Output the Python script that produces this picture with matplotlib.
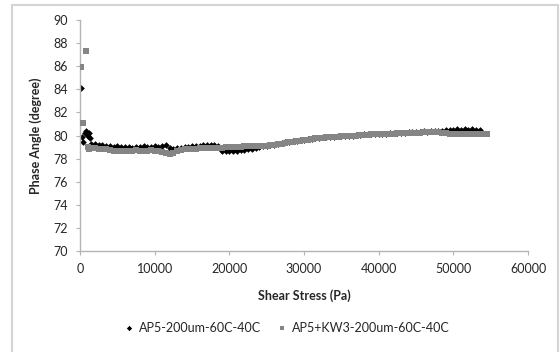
import matplotlib.pyplot as plt
from matplotlib.patches import Rectangle

plt.rcParams['font.family'] = ['Lato', 'DejaVu Sans']

# AP5-200um-60C-40C (black diamonds)
ap5_x = [130, 200, 400, 670, 800, 1000, 1200, 1340,
         1500, 2000, 2500, 3000, 3500, 4000, 4500, 5000, 5500, 6000,
         6500, 7000, 7500, 8000, 8500, 9000, 9500, 10000, 10500, 11000,
         11500, 12000, 12500, 13000, 13500, 14000, 14500, 15000, 15500, 16000,
         16500, 17000, 17500, 18000, 18500, 19000, 19500, 20000, 20500, 21000,
         21500, 22000, 22500, 23000, 23500, 24000, 24500, 25000, 25500, 26000,
         26500, 27000, 27500, 28000, 28500, 29000, 29500, 30000, 30500, 31000,
         31500, 32000, 32500, 33000, 33500, 34000, 34500, 35000, 35500, 36000,
         36500, 37000, 37500, 38000, 38500, 39000, 39500, 40000, 40500, 41000,
         41500, 42000, 42500, 43000, 43500, 44000, 44500, 45000, 45500, 46000,
         46500, 47000, 47500, 48000, 48500, 49000, 49500, 50000, 50500, 51000,
         51500, 52000, 52500, 53000, 53500]
ap5_y = [84.1, 79.9, 79.4, 80.2, 80.4, 80.0, 80.2, 79.8,
         79.3, 79.3, 79.2, 79.2, 79.1, 79.1, 79.0, 79.1, 79.0, 79.0,
         79.0, 78.95, 79.0, 79.0, 79.05, 79.0, 79.0, 79.05, 79.0, 79.1,
         79.2, 78.9, 78.85, 78.9, 78.95, 79.0, 79.0, 79.05, 79.1, 79.1,
         79.15, 79.2, 79.15, 79.2, 79.1, 78.7, 78.7, 78.65, 78.7, 78.7,
         78.75, 78.75, 78.8, 78.85, 78.9, 79.0, 79.05, 79.1, 79.15, 79.2,
         79.3, 79.35, 79.4, 79.45, 79.5, 79.55, 79.6, 79.65, 79.7, 79.7,
         79.75, 79.8, 79.85, 79.85, 79.9, 79.9, 79.95, 79.95, 80.0, 80.0,
         80.0, 80.05, 80.05, 80.1, 80.1, 80.1, 80.15, 80.1, 80.15, 80.15,
         80.2, 80.2, 80.2, 80.25, 80.25, 80.3, 80.3, 80.3, 80.3, 80.35,
         80.3, 80.35, 80.4, 80.4, 80.4, 80.45, 80.5, 80.5, 80.55, 80.5,
         80.55, 80.5, 80.55, 80.5, 80.5]

# AP5+KW3-200um-60C-40C (grey squares)
kw3_x = [130, 360, 760, 1000, 1200,
         1500, 2000, 2500, 3000, 3500, 4000, 4500, 5000, 5500, 6000,
         6500, 7000, 7500, 8000, 8500, 9000, 9500, 10000, 10500, 11000,
         11500, 12000, 12500, 13000, 13500, 14000, 14500, 15000, 15500, 16000,
         16500, 17000, 17500, 18000, 18500, 19000, 19500, 20000, 20500, 21000,
         21500, 22000, 22500, 23000, 23500, 24000, 24500, 25000, 25500, 26000,
         26500, 27000, 27500, 28000, 28500, 29000, 29500, 30000, 30500, 31000,
         31500, 32000, 32500, 33000, 33500, 34000, 34500, 35000, 35500, 36000,
         36500, 37000, 37500, 38000, 38500, 39000, 39500, 40000, 40500, 41000,
         41500, 42000, 42500, 43000, 43500, 44000, 44500, 45000, 45500, 46000,
         46500, 47000, 47500, 48000, 48500, 49000, 49500, 50000, 50500, 51000,
         51500, 52000, 52500, 53000, 53500, 54000, 54500]
kw3_y = [85.9, 81.1, 87.3, 79.0, 78.8,
         78.9, 78.9, 78.85, 78.8, 78.8, 78.75, 78.7, 78.7, 78.7, 78.7,
         78.7, 78.7, 78.75, 78.7, 78.7, 78.7, 78.75, 78.7, 78.7, 78.6,
         78.45, 78.4, 78.45, 78.7, 78.75, 78.8, 78.8, 78.85, 78.85, 78.9,
         78.9, 78.9, 78.95, 78.95, 78.95, 78.95, 79.0, 79.0, 79.0, 79.0,
         79.0, 79.05, 79.05, 79.05, 79.05, 79.1, 79.1, 79.1, 79.15, 79.2,
         79.25, 79.3, 79.35, 79.4, 79.45, 79.5, 79.55, 79.6, 79.65, 79.7,
         79.75, 79.75, 79.8, 79.85, 79.85, 79.9, 79.9, 79.95, 79.95, 80.0,
         80.0, 80.0, 80.05, 80.05, 80.05, 80.1, 80.1, 80.1, 80.1, 80.15,
         80.15, 80.15, 80.2, 80.2, 80.2, 80.2, 80.25, 80.25, 80.25, 80.3,
         80.3, 80.3, 80.3, 80.3, 80.25, 80.2, 80.15, 80.1, 80.1, 80.1,
         80.1, 80.15, 80.1, 80.1, 80.15, 80.1, 80.1]

x_ticks = [0, 10000, 20000, 30000, 40000, 50000, 60000]
y_ticks = [70, 72, 74, 76, 78, 80, 82, 84, 86, 88, 90]

text_col = '#262626'
axis_col = '#b4b4b4'

fig = plt.figure(figsize=(5.6, 3.52), dpi=100)
ax = fig.add_axes([0.143, 0.287, 0.8, 0.656])

ax.plot(ap5_x, ap5_y, linestyle='none', marker='D', markersize=3.4,
        color='black', markeredgewidth=0, label='AP5-200um-60C-40C', zorder=2)
ax.plot(kw3_x, kw3_y, linestyle='none', marker='s', markersize=3.8,
        color='#858585', markeredgewidth=0, label='AP5+KW3-200um-60C-40C', zorder=3)

ax.set_xlim(0, 60000)
ax.set_ylim(70, 90)
ax.set_xticks(x_ticks)
ax.set_yticks(y_ticks)

for s in ['top', 'right']:
    ax.spines[s].set_visible(False)
for s in ['left', 'bottom']:
    ax.spines[s].set_color(axis_col)
    ax.spines[s].set_linewidth(1.0)

ax.tick_params(axis='both', direction='out', length=3, width=0.8,
               color=axis_col, labelsize=9, labelcolor=text_col)
ax.tick_params(axis='y', pad=6)
ax.tick_params(axis='x', pad=6)

ax.set_xlabel('Shear Stress (Pa)', fontsize=9, fontweight='bold',
              color=text_col, labelpad=10)
ax.set_ylabel('Phase Angle (degree)', fontsize=9, fontweight='bold',
              color=text_col, labelpad=8)

fig.legend(loc='center', ncol=2,
           bbox_to_anchor=(287 / 560, 1 - 328 / 352), frameon=False,
           fontsize=9, labelcolor=text_col, handlelength=0.8,
           handletextpad=0.4, columnspacing=1.3, markerscale=0.8)

# light outer chart border (Excel chart area)
fig.patches.append(Rectangle((12 / 560, -0.05), 546 / 560, 1.05 - 5 / 352,
                             transform=fig.transFigure, fill=False,
                             edgecolor='#d4d4d4', linewidth=1.5))

fig.savefig('out.png', dpi=100)
